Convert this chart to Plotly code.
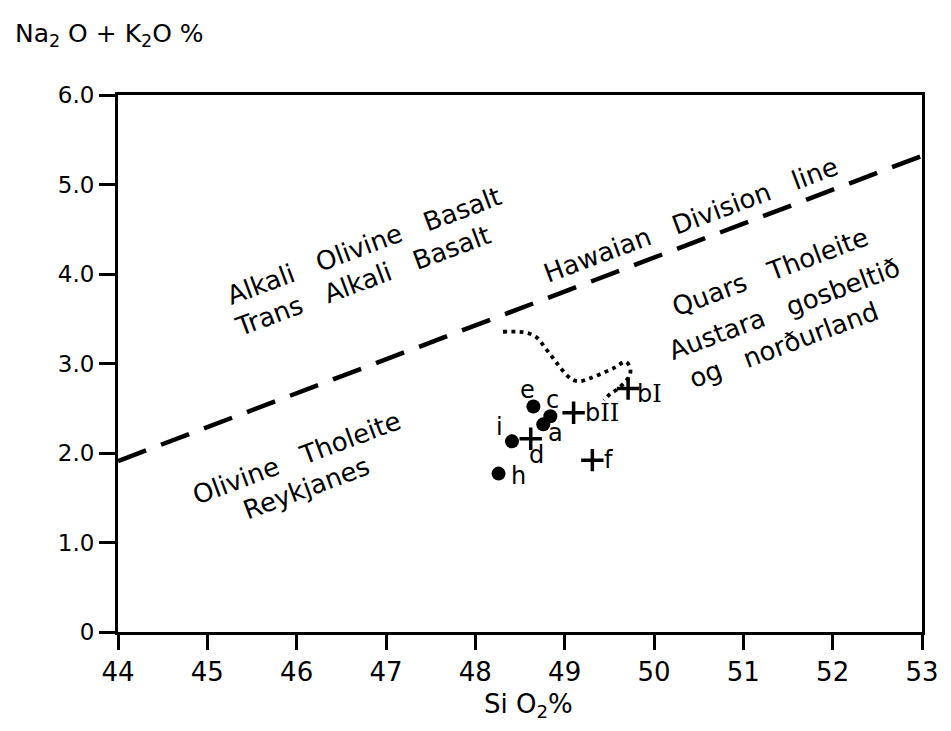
import plotly.graph_objects as go

# Data
dot_labels = ["e", "c", "a", "i", "h"]
dot_x = [48.65, 48.84, 48.76, 48.41, 48.26]
dot_y = [2.52, 2.41, 2.32, 2.13, 1.77]

plus_labels = ["d", "f", "bII", "bI"]
plus_x = [48.62, 49.31, 49.10, 49.71]
plus_y = [2.16, 1.92, 2.45, 2.72]

hawaii_x = [44, 53]
hawaii_y = [1.91, 5.32]

curve_x = [48.31, 48.46, 48.59, 48.70, 48.77, 48.84, 48.90, 48.97, 49.07, 49.16,
           49.27, 49.42, 49.57, 49.68, 49.73, 49.73, 49.68, 49.60, 49.51, 49.44]
curve_y = [3.355, 3.355, 3.34, 3.28, 3.19, 3.10, 3.02, 2.93, 2.83, 2.80,
           2.83, 2.89, 2.96, 3.02, 2.96, 2.87, 2.80, 2.72, 2.66, 2.59]

x_ticks = [44, 45, 46, 47, 48, 49, 50, 51, 52, 53]
y_ticks = [0, 1, 2, 3, 4, 5, 6]
y_tick_text = ["0", "1.0", "2.0", "3.0", "4.0", "5.0", "6.0"]

# point label positions
lab_text = ["e", "c", "a", "i", "d", "h", "f",
            "b<span style='font-family:DejaVu Serif'>II</span>",
            "b<span style='font-family:DejaVu Serif'>I</span>"]
lab_x = [48.58, 48.86, 48.90, 48.27, 48.68, 48.48, 49.49, 49.42, 49.95]
lab_y = [2.70, 2.59, 2.22, 2.29, 1.98, 1.74, 1.92, 2.45, 2.66]

# region texts
NB = "\u00a0\u00a0\u00a0"
region_text = ["Alkali" + NB + "Olivine" + NB + "Basalt",
               "Trans" + NB + "Alkali" + NB + "Basalt",
               "Hawaian" + NB + "Division" + NB + "line",
               "Quars" + NB + "Tholeite",
               "Austara" + NB + "gosbeltið",
               "og" + NB + "norðurland",
               "Olivine" + NB + "Tholeite",
               "Reykjanes"]
region_x = [46.75, 46.74, 50.41, 51.30, 51.46, 51.45, 46.00, 46.11]
region_y = [4.31, 3.92, 4.60, 4.02, 3.61, 3.21, 1.94, 1.61]

FONT = "DejaVu Sans"

fig = go.Figure()

fig.add_trace(go.Scatter(x=hawaii_x, y=hawaii_y, mode="lines",
                         line=dict(color="black", width=4.5, dash="30px,16px"),
                         hoverinfo="skip", showlegend=False))
fig.add_trace(go.Scatter(x=curve_x, y=curve_y, mode="lines",
                         line=dict(color="black", width=3.8, dash="3.8px,4.5px", shape="spline"),
                         hoverinfo="skip", showlegend=False))
fig.add_trace(go.Scatter(x=dot_x, y=dot_y, mode="markers",
                         marker=dict(symbol="circle", size=14, color="black"),
                         showlegend=False))
fig.add_trace(go.Scatter(x=plus_x, y=plus_y, mode="markers",
                         marker=dict(symbol="cross-thin", size=16,
                                     line=dict(color="black", width=3.5)),
                         showlegend=False))

for t, x, y in zip(lab_text, lab_x, lab_y):
    fig.add_annotation(x=x, y=y, text=t, showarrow=False,
                       font=dict(family=FONT, size=24, color="black"))

for t, x, y in zip(region_text, region_x, region_y):
    fig.add_annotation(x=x, y=y, text=t, showarrow=False, textangle=-20.5,
                       font=dict(family=FONT, size=26, color="black"))

fig.add_annotation(xref="paper", yref="paper", x=-0.1305, y=1.112, xanchor="left",
                   yanchor="middle", showarrow=False,
                   text="Na<sub>2</sub> O + K<sub>2</sub>O %",
                   font=dict(family=FONT, size=25, color="black"))
fig.add_annotation(xref="paper", yref="paper", x=0.511, y=-0.136, xanchor="center",
                   yanchor="middle", showarrow=False,
                   text="Si O<sub>2</sub>%",
                   font=dict(family=FONT, size=26, color="black"))

fig.update_layout(
    width=951, height=731,
    margin=dict(l=118, r=21, t=95, b=99),
    plot_bgcolor="white", paper_bgcolor="white",
    showlegend=False,
    font=dict(family=FONT, color="black"),
)
fig.update_xaxes(range=[44, 53], tickvals=x_ticks, ticktext=[str(v) for v in x_ticks],
                 showgrid=False, zeroline=False, showline=True, linecolor="black",
                 linewidth=3, mirror=True, ticks="outside", ticklen=15, tickwidth=3,
                 tickcolor="black", ticklabeloverflow="allow",
                 tickfont=dict(family=FONT, size=26, color="black"))
fig.update_yaxes(range=[0, 6], tickvals=y_ticks, ticktext=y_tick_text,
                 showgrid=False, zeroline=False, showline=True, linecolor="black",
                 linewidth=3, mirror=True, ticks="outside", ticklen=16, tickwidth=3,
                 tickcolor="black", ticklabeloverflow="allow",
                 tickfont=dict(family=FONT, size=23, color="black"))

fig.write_html("out.html", config={"displayModeBar": False},
               post_script="document.body.style.margin='0';document.body.style.overflow='hidden';")
